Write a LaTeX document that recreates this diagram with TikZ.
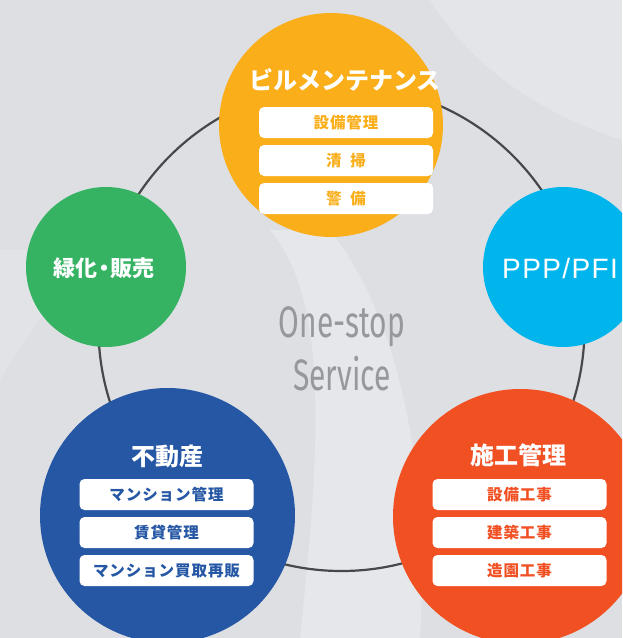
\documentclass[tikz,border=0pt]{standalone}
\usepackage{fontspec}
\newfontfamily\jp{Noto Sans CJK JP}
\newfontfamily\ppp[LetterSpace=5]{Liberation Sans}
\newfontfamily\cond[FakeStretch=0.68]{Fira Sans}
\definecolor{bg}{RGB}{221,223,227}
\definecolor{cOrange}{RGB}{249,174,26}
\definecolor{cGreen}{RGB}{53,179,99}
\definecolor{cSky}{RGB}{0,181,236}
\definecolor{cNavy}{RGB}{37,87,164}
\definecolor{cRed}{RGB}{241,80,35}
\definecolor{cRing}{RGB}{72,72,76}
\definecolor{cGrayTxt}{RGB}{150,152,156}
\tikzset{
  disc/.style={circle, inner sep=0pt, minimum size=#1},
  title/.style={text=white, font=\jp\bfseries\fontsize{24}{24}\selectfont},
  itembox/.style={fill=white, rounded corners=5pt, minimum width=174pt, minimum height=31pt, inner sep=0pt,
    font=\jp\bfseries\fontsize{15.5}{16}\selectfont\addfontfeature{LetterSpace=6}},
}
\begin{document}
\begin{tikzpicture}[x=1pt,y=-1pt]
\useasboundingbox (0,0) rectangle (622,638);
\clip (0,0) rectangle (622,638);
\fill[bg] (0,0) rectangle (622,638);
% faint photo-like lighter areas
\fill[white, opacity=0.25] (270,230) .. controls (330,300) and (320,450) .. (300,638) -- (420,638) .. controls (430,470) and (400,320) .. (330,230) -- cycle;
\fill[white, opacity=0.2] (430,0) .. controls (480,80) and (560,120) .. (622,140) -- (622,0) -- cycle;
\fill[white, opacity=0.15] (0,380) .. controls (30,330) and (60,300) .. (70,250) -- (0,250) -- cycle;

% ring
\node[circle, draw=cRing, line width=2.2pt, minimum size=486pt, inner sep=0pt] (ring) at (341.5,328) {};

% circles
\node[disc=224pt, fill=cOrange] (bm) at (331,125) {};
\node[disc=160pt, fill=cGreen] (gr) at (106,267) {};
\node[disc=160pt, fill=cSky] (pp) at (563,267) {};
\node[disc=255pt, fill=cNavy] (fd) at (167.5,515.5) {};
\node[disc=255pt, fill=cRed] (sk) at (520.5,516.5) {};

% titles
\node[title] (bmT) at (345,80) {ビルメンテナンス};
\node[title, font=\jp\bfseries\fontsize{22}{22}\selectfont] (grT) at (104,268) {緑化\hspace{-0.22em}・\hspace{-0.22em}販売};
\node[text=white, font=\ppp\fontsize{28}{28}\selectfont, anchor=base west, inner sep=0pt] (ppT) at (502,278.5) {PPP/PFI};
\node[title] (fdT) at (167,456) {不動産};
\node[title] (skT) at (518,455) {施工管理};

% boxes
\node[itembox, text=cOrange] (bm1) at (346,122.5) {設備管理};
\node[itembox, text=cOrange] (bm2) at (346,160.5) {清\hspace{0.55em}掃};
\node[itembox, text=cOrange] (bm3) at (346,198.5) {警\hspace{0.55em}備};

\node[itembox, text=cNavy] (fd1) at (166.5,494.5) {マンション管理};
\node[itembox, text=cNavy] (fd2) at (166.5,532.5) {賃貸管理};
\node[itembox, text=cNavy] (fd3) at (166.5,570.5) {マンション買取再販};

\node[itembox, text=cRed] (sk1) at (519.5,494.5) {設備工事};
\node[itembox, text=cRed] (sk2) at (519.5,532.5) {建築工事};
\node[itembox, text=cRed] (sk3) at (519.5,570.5) {造園工事};

% center text
\node[text=cGrayTxt, font=\cond\fontsize{44}{44}\selectfont, anchor=base] (os1) at (342,337) {One-stop};
\node[text=cGrayTxt, font=\cond\fontsize{44}{44}\selectfont, anchor=base] (os2) at (342,390) {Service};
\end{tikzpicture}
\end{document}
